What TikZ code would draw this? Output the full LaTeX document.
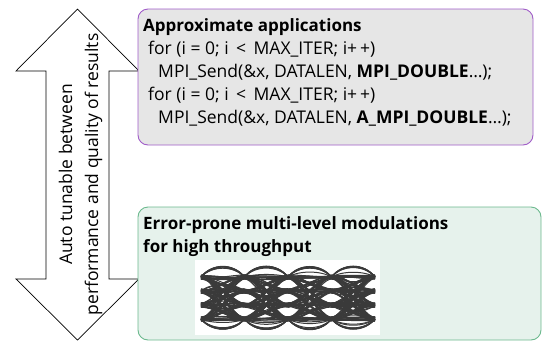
\documentclass[tikz,border=0pt]{standalone}
\usepackage{fontspec}
\setmainfont{Open Sans}
\definecolor{purpleedge}{HTML}{A05CC8}
\definecolor{boxgray}{HTML}{E6E6E6}
\definecolor{greenedge}{HTML}{6CB98E}
\definecolor{greenfill}{HTML}{E6F2EC}
\definecolor{eyegray}{HTML}{3A3A3A}
\tikzset{
  boxtext/.style={anchor=base west, inner sep=0pt, font=\fontsize{17.5}{23}\selectfont},
  titletext/.style={boxtext, font=\fontsize{17}{23}\selectfont\bfseries},
  eyeline/.style={draw=eyegray, line width=1pt},
  panel/.style={rounded corners=10pt, line width=0.9pt},
}
\begin{document}
\begin{tikzpicture}[x=1pt,y=-1pt]
\useasboundingbox (0,0) rectangle (542,341);
% double arrow
\draw[fill=white, line width=0.7pt, line join=miter] (77.5,9) -- (139,71) -- (109,71) -- (109,279) -- (139,279) -- (77.5,340) -- (16,279) -- (46,279) -- (46,71) -- (16,71) -- cycle;
\node[rotate=90, align=center, inner sep=0pt, font=\fontsize{17.5}{26}\selectfont] (lbl) at (80.5,174.5) {Auto tunable between\\performance and quality of results};
% purple panel
\draw[panel, draw=purpleedge, fill=boxgray] (138,9) rectangle (533,145);
\node[titletext] (t1) at (143,31) {Approximate applications};
\node[boxtext] (l1) at (148,54) {for (i = 0; i \,<\, MAX\_ITER; i+\,+)};
\node[boxtext] (l2) at (158,77) {MPI\_Send(\&x, DATALEN, \textbf{MPI\_DOUBLE}…);};
\node[boxtext] (l3) at (148,100) {for (i = 0; i \,<\, MAX\_ITER; i+\,+)};
\node[boxtext] (l4) at (158,123) {MPI\_Send(\&x, DATALEN, \textbf{A\_MPI\_DOUBLE}…);};
% green panel
\draw[panel, draw=greenedge, fill=greenfill] (138,207) rectangle (541,340);
\node[titletext] (g1) at (143,229) {Error-prone multi-level modulations};
\node[titletext] (g2) at (143,252) {for high throughput};
% eye diagram
\fill[white] (195,260) rectangle (380,335);
\pgfmathsetseed{12}
\foreach \k in {0,1,2,3}{
  \pgfmathsetmacro{\xa}{201+43.5*\k}
  \pgfmathsetmacro{\xb}{\xa+43.5}
  \foreach \a in {0,1,2,3}{
    \foreach \b in {0,1,2,3}{
      \foreach \j in {1,...,7}{
        \pgfmathsetmacro{\ya}{277+14*\a+rand*2.2}
        \pgfmathsetmacro{\yb}{277+14*\b+rand*2.2}
        \pgfmathsetmacro{\ca}{11+rand*4}
        \draw[eyeline] (\xa,\ya) .. controls (\xa+\ca,\ya) and (\xb-\ca,\yb) .. (\xb,\yb);
      }}}
  \foreach \j in {1,...,6}{
    \pgfmathsetmacro{\h}{264+rand*1.5}
    \pgfmathsetmacro{\hb}{332+rand*1.5}
    \draw[eyeline] (\xa,277) .. controls (\xa+11,\h) and (\xb-11,\h) .. (\xb,277);
    \draw[eyeline] (\xa,319) .. controls (\xa+11,\hb) and (\xb-11,\hb) .. (\xb,319);
  }
  \foreach \a in {0,1,2,3}{
    \foreach \j in {1,...,4}{
      \pgfmathsetmacro{\ya}{277+14*\a}
      \pgfmathsetmacro{\d}{rand*9}
      \draw[eyeline] (\xa,\ya) .. controls (\xa+11,\ya+\d) and (\xb-11,\ya+\d) .. (\xb,\ya);
    }}
}
\end{tikzpicture}
\end{document}
